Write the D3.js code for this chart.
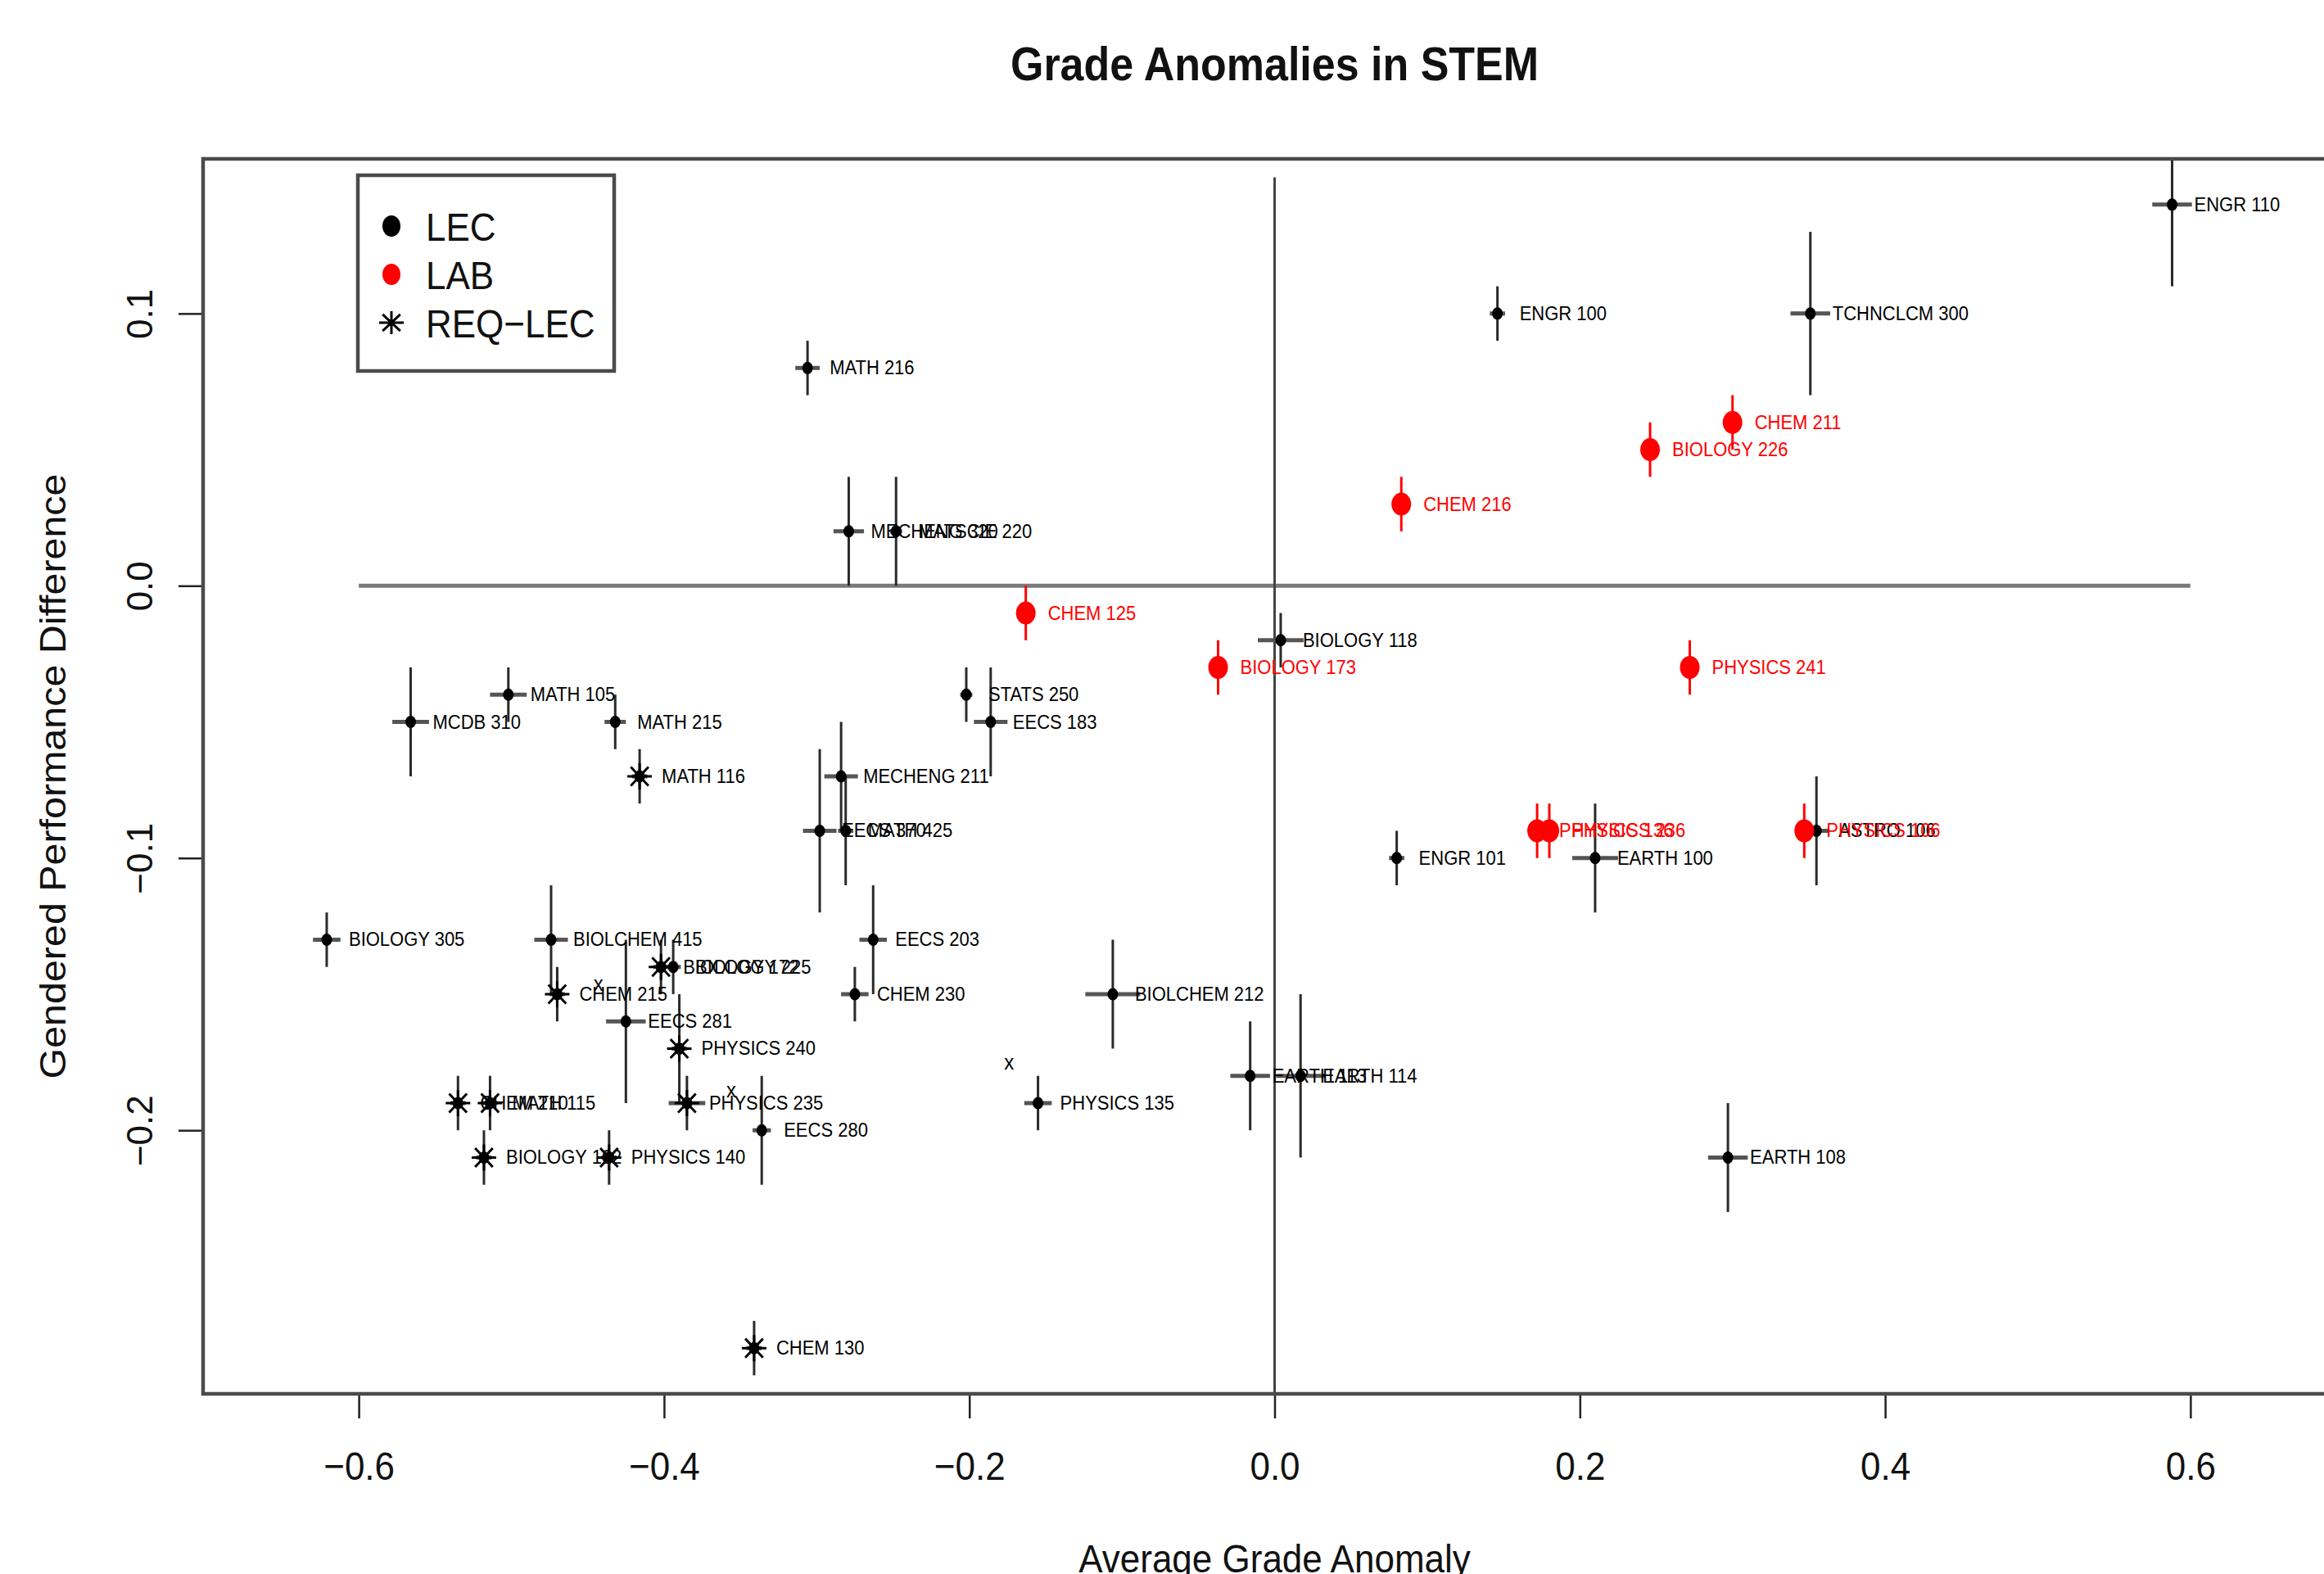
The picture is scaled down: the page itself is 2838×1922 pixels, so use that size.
<!DOCTYPE html>
<html>
<head>
<meta charset="utf-8">
<script src="https://cdn.jsdelivr.net/npm/d3@7"></script>
<style>
  html, body { margin: 0; padding: 0; background: #fff; }
  svg { display: block; font-family: "Liberation Sans", Arial, Helvetica, sans-serif; }
</style>
</head>
<body>
<div id="chart"></div>
<script>
// course data
const courses = [
  "ENGR 110", "ENGR 100", "TCHNCLCM 300", "MATH 216", "MECHENG 320", "MATSCIE 220",
  "BIOLOGY 118", "STATS 250", "EECS 183", "MATH 105", "MCDB 310", "MATH 215",
  "MECHENG 211", "EECS 370", "MATH 425", "ENGR 101", "EARTH 100", "ASTRO 106",
  "BIOLOGY 305", "BIOLCHEM 415", "EECS 203", "BIOLOGY 225", "CHEM 230", "BIOLCHEM 212",
  "EECS 281", "EARTH 113", "EARTH 114", "PHYSICS 135", "EECS 280", "EARTH 108",
  "MATH 116", "CHEM 215", "BIOLOGY 172", "PHYSICS 240", "PHYSICS 235", "CHEM 210",
  "MATH 115", "BIOLOGY 162", "PHYSICS 140", "CHEM 130",
  "CHEM 211", "BIOLOGY 226", "CHEM 216", "CHEM 125", "BIOLOGY 173", "PHYSICS 241",
  "PHYSICS 136", "PHYSICS 236", "PHYSICS 106"
];
const courseTypes = [
  "LEC", "LEC", "LEC", "LEC", "LEC", "LEC",
  "LEC", "LEC", "LEC", "LEC", "LEC", "LEC",
  "LEC", "LEC", "LEC", "LEC", "LEC", "LEC",
  "LEC", "LEC", "LEC", "LEC", "LEC", "LEC",
  "LEC", "LEC", "LEC", "LEC", "LEC", "LEC",
  "REQ", "REQ", "REQ", "REQ", "REQ", "REQ",
  "REQ", "REQ", "REQ", "REQ",
  "LAB", "LAB", "LAB", "LAB", "LAB", "LAB",
  "LAB", "LAB", "LAB"
];
const gradeAnomaly = [
  0.588, 0.146, 0.351, -0.306, -0.279, -0.248,
  0.004, -0.202, -0.186, -0.502, -0.566, -0.432,
  -0.284, -0.298, -0.281, 0.080, 0.210, 0.355,
  -0.621, -0.474, -0.263, -0.394, -0.275, -0.106,
  -0.425, -0.016, 0.017, -0.155, -0.336, 0.297,
  -0.416, -0.470, -0.402, -0.390, -0.385, -0.535,
  -0.514, -0.518, -0.436, -0.341,
  0.300, 0.246, 0.083, -0.163, -0.037, 0.272,
  0.172, 0.180, 0.347
];
const gradeAnomalyErr = [
  0.013, 0.005, 0.013, 0.008, 0.010, 0.004,
  0.015, 0.004, 0.011, 0.012, 0.012, 0.007,
  0.011, 0.011, 0.005, 0.005, 0.015, 0.008,
  0.009, 0.011, 0.009, 0.005, 0.009, 0.018,
  0.013, 0.013, 0.016, 0.009, 0.006, 0.013,
  0.005, 0.005, 0.005, 0.005, 0.012, 0.005,
  0.005, 0.005, 0.005, 0.005,
  0.003, 0.003, 0.003, 0.003, 0.003, 0.003,
  0.003, 0.003, 0.003
];
const perfDiff = [
  0.14, 0.10, 0.10, 0.08, 0.02, 0.02,
  -0.02, -0.04, -0.05, -0.04, -0.05, -0.05,
  -0.07, -0.09, -0.09, -0.10, -0.10, -0.09,
  -0.13, -0.13, -0.13, -0.14, -0.15, -0.15,
  -0.16, -0.18, -0.18, -0.19, -0.20, -0.21,
  -0.07, -0.15, -0.14, -0.17, -0.19, -0.19,
  -0.19, -0.21, -0.21, -0.28,
  0.06, 0.05, 0.03, -0.01, -0.03, -0.03,
  -0.09, -0.09, -0.09
];
const perfDiffErr = [
  0.03, 0.01, 0.03, 0.01, 0.02, 0.02,
  0.01, 0.01, 0.02, 0.01, 0.02, 0.01,
  0.02, 0.03, 0.02, 0.01, 0.02, 0.02,
  0.01, 0.02, 0.02, 0.01, 0.01, 0.02,
  0.03, 0.02, 0.03, 0.01, 0.02, 0.02,
  0.01, 0.01, 0.01, 0.02, 0.01, 0.01,
  0.01, 0.01, 0.01, 0.01,
  0.01, 0.01, 0.01, 0.01, 0.01, 0.01,
  0.01, 0.01, 0.01
];
// stray "x" marks drawn on the plot
const markX = [-0.443, -0.174, -0.356];
const markY = [-0.147, -0.176, -0.186];

const xTicks = [-0.6, -0.4, -0.2, 0.0, 0.2, 0.4, 0.6];
const yTicks = [-0.2, -0.1, 0.0, 0.1];
const xLim = [-0.65, 0.65];
const yLim = [-0.28, 0.14];
const legendNames = ["LEC", "LAB", "REQ\u2212LEC"];
const legendTypes = ["LEC", "LAB", "REQ"];

const W = 2838, H = 1922;
const SY = 1.1; // the reference is stretched a little vertically
const plot = { left: 248, top: 194, right: 2865, bottom: 1702 };

const data = courses.map((name, i) => ({
  name,
  type: courseTypes[i],
  x: gradeAnomaly[i],
  xe: gradeAnomalyErr[i],
  y: perfDiff[i],
  ye: perfDiffErr[i]
}));

const svg = d3.select("#chart").append("svg")
  .attr("width", W)
  .attr("height", H);

// R style axis ranges: 4% extension on each side
const xExt = (xLim[1] - xLim[0]) * 0.04;
const yExt = (yLim[1] - yLim[0]) * 0.04;

const xScale = d3.scaleLinear()
  .domain([xLim[0] - xExt, xLim[1] + xExt])
  .range([plot.left, plot.right]);

const yScale = d3.scaleLinear()
  .domain([yLim[0] - yExt, yLim[1] + yExt])
  .range([plot.bottom, plot.top]);

const fmt = d => (d < 0 ? "\u2212" : "") + d3.format(".1f")(Math.abs(d));

svg.append("defs").append("clipPath")
  .attr("id", "plotClip")
  .append("rect")
  .attr("x", plot.left)
  .attr("y", plot.top)
  .attr("width", plot.right - plot.left)
  .attr("height", plot.bottom - plot.top);

// Title
svg.append("text")
  .attr("transform", `translate(${(plot.left + plot.right) / 2},98) scale(1,1.12)`)
  .attr("text-anchor", "middle")
  .style("font-size", "52px")
  .style("font-weight", "bold")
  .style("fill", "#111")
  .text("Grade Anomalies in STEM");

// X axis
const xAxis = svg.append("g")
  .attr("class", "x-axis")
  .attr("transform", `translate(0,${plot.bottom})`)
  .call(d3.axisBottom(xScale).tickValues(xTicks).tickSize(30).tickSizeOuter(0).tickFormat(fmt));
xAxis.select("path.domain").remove();
xAxis.selectAll(".tick line").style("stroke", "#222").style("stroke-width", 2.5);
xAxis.selectAll(".tick text")
  .attr("y", 105 / SY)
  .attr("dy", 0)
  .attr("transform", `scale(1,${SY})`)
  .style("font-size", "44px")
  .style("font-family", "'Liberation Sans', Arial, sans-serif")
  .style("fill", "#111");

// Y axis
const yAxis = svg.append("g")
  .attr("class", "y-axis")
  .attr("transform", `translate(${plot.left},0)`)
  .call(d3.axisLeft(yScale).tickValues(yTicks).tickSize(30).tickSizeOuter(0).tickFormat(fmt));
yAxis.select("path.domain").remove();
yAxis.selectAll(".tick line").style("stroke", "#222").style("stroke-width", 2.5);
yAxis.selectAll(".tick text")
  .attr("x", 0)
  .attr("y", 0)
  .attr("dy", 0)
  .attr("text-anchor", "middle")
  .attr("transform", "translate(-62,0) rotate(-90)")
  .style("font-size", "44px")
  .style("font-family", "'Liberation Sans', Arial, sans-serif")
  .style("fill", "#111");

// Axis titles
svg.append("text")
  .attr("transform", `translate(${(plot.left + plot.right) / 2},1920) scale(1,${SY})`)
  .attr("text-anchor", "middle")
  .style("font-size", "44px")
  .style("fill", "#111")
  .text("Average Grade Anomaly");

svg.append("text")
  .attr("transform", `translate(80,${(plot.top + plot.bottom) / 2}) rotate(-90) scale(${SY},1)`)
  .attr("text-anchor", "middle")
  .style("font-size", "44px")
  .style("fill", "#111")
  .text("Gendered Performance Difference");

const inner = svg.append("g").attr("clip-path", "url(#plotClip)");

// Reference lines through zero
inner.append("line")
  .attr("x1", xScale(-0.6)).attr("x2", xScale(0.6))
  .attr("y1", yScale(0)).attr("y2", yScale(0))
  .style("stroke", "#7a7a7a")
  .style("stroke-width", 5);
inner.append("line")
  .attr("x1", xScale(0)).attr("x2", xScale(0))
  .attr("y1", yScale(0.15)).attr("y2", yScale(-0.3))
  .style("stroke", "#444")
  .style("stroke-width", 3);

const colorOf = t => t === "LAB" ? "#ff0000" : "#000";

// Error bars
inner.selectAll(".xerr")
  .data(data.filter(d => d.type !== "LAB"))
  .enter()
  .append("line")
  .attr("class", "xerr")
  .attr("x1", d => xScale(d.x - d.xe))
  .attr("x2", d => xScale(d.x + d.xe))
  .attr("y1", d => yScale(d.y))
  .attr("y2", d => yScale(d.y))
  .style("stroke", "#555")
  .style("stroke-width", 5);

inner.selectAll(".yerr")
  .data(data)
  .enter()
  .append("line")
  .attr("class", "yerr")
  .attr("x1", d => xScale(d.x))
  .attr("x2", d => xScale(d.x))
  .attr("y1", d => yScale(d.y - d.ye))
  .attr("y2", d => yScale(d.y + d.ye))
  .style("stroke", d => d.type === "LAB" ? "#ff0000" : "#2a2a2a")
  .style("stroke-width", 3);

// R pch 8 style asterisk
function asteriskPath(h, v) {
  const p = d3.path();
  const dx = h * 0.72, dy = v * 0.72;
  p.moveTo(-h, 0); p.lineTo(h, 0);
  p.moveTo(0, -v); p.lineTo(0, v);
  p.moveTo(-dx, -dy); p.lineTo(dx, dy);
  p.moveTo(-dx, dy); p.lineTo(dx, -dy);
  return p.toString();
}

function drawMarker(sel, type) {
  if (type === "LAB") {
    sel.append("ellipse").attr("rx", 12).attr("ry", 14).style("fill", "#ff0000");
  } else if (type === "REQ") {
    sel.append("path")
      .attr("d", asteriskPath(15, 16))
      .style("stroke", "#000")
      .style("stroke-width", 3)
      .style("fill", "none");
    sel.append("ellipse").attr("rx", 6.5).attr("ry", 7.5).style("fill", "#000");
  } else {
    sel.append("ellipse").attr("rx", 6.5).attr("ry", 7.5).style("fill", "#000");
  }
}

// Points
inner.selectAll(".pt")
  .data(data)
  .enter()
  .append("g")
  .attr("class", "pt")
  .attr("transform", d => `translate(${xScale(d.x)},${yScale(d.y)})`)
  .each(function(d) { drawMarker(d3.select(this), d.type); });

// Point labels
inner.selectAll(".lbl")
  .data(data)
  .enter()
  .append("text")
  .attr("class", "lbl")
  .attr("transform", d => `translate(${xScale(d.x) + 27},${yScale(d.y) + 8}) scale(1,${SY})`)
  .style("font-size", "22px")
  .style("fill", d => colorOf(d.type))
  .text(d => d.name);

// stray x marks
inner.selectAll(".mark")
  .data(markX.map((v, i) => ({ x: v, y: markY[i] })))
  .enter()
  .append("text")
  .attr("class", "mark")
  .attr("transform", d => `translate(${xScale(d.x)},${yScale(d.y) + 6}) scale(1,${SY})`)
  .attr("text-anchor", "middle")
  .style("font-size", "24px")
  .style("fill", "#000")
  .text("x");

// Frame
svg.append("rect")
  .attr("x", plot.left)
  .attr("y", plot.top)
  .attr("width", plot.right - plot.left)
  .attr("height", plot.bottom - plot.top)
  .style("fill", "none")
  .style("stroke", "#4a4a4a")
  .style("stroke-width", 4.5);

// Legend
const legend = svg.append("g").attr("class", "legend");
legend.append("rect")
  .attr("x", 437).attr("y", 214)
  .attr("width", 313).attr("height", 239)
  .style("fill", "#fff")
  .style("stroke", "#4a4a4a")
  .style("stroke-width", 4.5);

const legendRow = d3.scalePoint()
  .domain(legendNames)
  .range([276, 394]);

legendNames.forEach((name, i) => {
  const row = legend.append("g")
    .attr("transform", `translate(478,${legendRow(name)})`);
  const mk = row.append("g");
  if (legendTypes[i] === "REQ") {
    mk.append("path")
      .attr("d", asteriskPath(15, 14))
      .style("stroke", "#000")
      .style("stroke-width", 3)
      .style("fill", "none");
  } else {
    mk.append("ellipse").attr("rx", 11).attr("ry", 13).style("fill", colorOf(legendTypes[i]));
  }
  row.append("text")
    .attr("transform", `translate(42,18) scale(1,${SY})`)
    .style("font-size", "44px")
    .style("fill", "#111")
    .text(name);
});
</script>
</body>
</html>
